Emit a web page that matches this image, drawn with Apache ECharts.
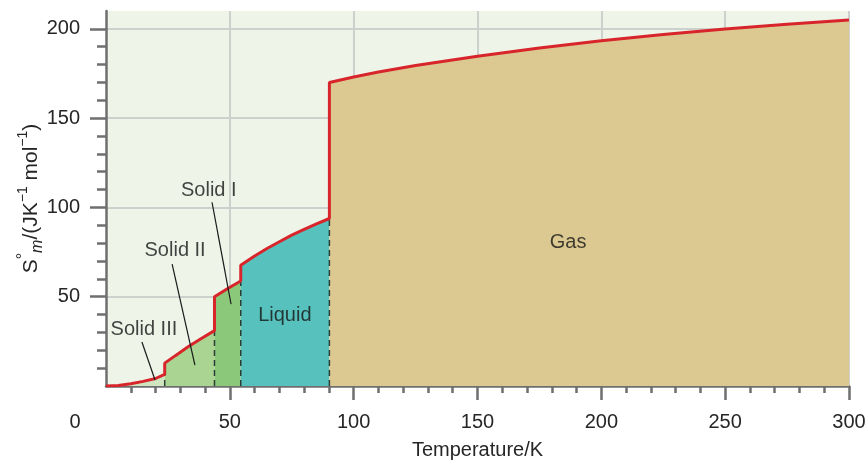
<!DOCTYPE html>
<html><head><meta charset="utf-8">
<script src="https://cdn.jsdelivr.net/npm/echarts@6/dist/echarts.min.js"></script>
<style>html,body{margin:0;padding:0;background:#fff}#c{width:866px;height:463px}</style>
</head><body><div id="c"></div>
<script>
// ---- data ----
const solidIII = [[0,0],[5,0.3],[10,1.3],[15,2.6],[20,4.2],[23.7,6.5]];
const solidII  = [[23.7,12.8],[28,17],[33,21.8],[38,26.2],[43.8,31]];
const solidI   = [[43.8,50],[49,54.5],[54.4,58.8]];
const liquid   = [[54.4,67.6],[60,72.8],[65,77],[70,80.8],[75,84.5],[80,87.7],[85,90.8],[90.2,93.8]];
const gas      = [[90.2,170],[100,173],[110,175.8],[125,179.5],[150,184.6],[175,189.3],[200,193.3],[225,196.8],[250,199.9],[275,202.6],[300,205]];
const phaseNames = ['Solid III','Solid II','Solid I','Liquid','Gas'];
const xTickLabels = [0,50,100,150,200,250,300];
const xMajorTicks = [50,100,150,200,250,300];
const yTickLabels = [50,100,150,200];
const yMinorTicks = [10,20,30,40,60,70,80,90,110,120,130,140,160,170,180,190];

// annotation anchors (data coordinates)
const labelAnchors = [[15.3,31.9],[27.9,75.8],[41.5,109.6],[72.2,39.4],[186.6,80.5]];
const leaderLines = [
  [[14.5,24.6],[19.8,3.4]],
  [[26.7,68.2],[35.9,11.7]],
  [[42.8,102.9],[50.5,45.8]]
];

const FONT = "'Liberation Sans', Arial, Helvetica, sans-serif";
const AXIS_COL = '#6f6f6f';
const TXT = '#262626';
const phases = [solidIII, solidII, solidI, liquid, gas];
const fillColors = ['#cfe5c0','#a9d492','#8cc87a','#57c2bd','#dcc991'];

const series = [];
phases.forEach((d,i)=>{
  series.push({type:'line', data:d, symbol:'none', silent:true, z:2,
    lineStyle:{width:0}, areaStyle:{color:fillColors[i], opacity:1}});
});
// dashed phase boundaries
for (let i=0;i<phases.length-1;i++){
  const last = phases[i][phases[i].length-1];
  series.push({type:'line', data:[[last[0],0],[last[0],last[1]]], symbol:'none', silent:true, z:3,
    lineStyle:{color:'#2b3b38', width:1.5, type:[6,4]}});
}
// entropy curve
series.push({type:'line', data:[].concat(...phases), symbol:'none', silent:true, z:5,
  lineStyle:{color:'#d8252b', width:3}});
// leader lines
leaderLines.forEach(l=>{
  series.push({type:'line', data:l, symbol:'none', silent:true, z:6,
    lineStyle:{color:'#1a1a1a', width:1.2}});
});
// phase labels
series.push({type:'scatter', symbolSize:0, silent:true, z:7,
  data: phaseNames.map((n,i)=>({name:n, value:labelAnchors[i]})),
  label:{show:true, position:'inside', formatter:'{b}', align:'center', verticalAlign:'middle',
    fontSize:20, fontFamily:FONT, color:'#151515'}});

const chart = echarts.init(document.getElementById('c'), null, {renderer:'canvas'});
chart.setOption({
  animation:false,
  backgroundColor:'#ffffff',
  grid:{left:106, right:17, top:11, bottom:77, show:true, backgroundColor:'#eef4e8', borderWidth:0,
    containLabel:false, outerBoundsMode:'none'},
  xAxis:{type:'value', min:0, max:300, interval:50,
    name:'Temperature/K', nameLocation:'middle', nameGap:54, nameMoveOverlap:false,
    nameTextStyle:{fontSize:20, fontFamily:FONT, color:TXT},
    axisLine:{show:true, onZero:false, lineStyle:{color:AXIS_COL, width:2.5}},
    axisTick:{show:true, customValues:xMajorTicks, length:14, lineStyle:{color:AXIS_COL, width:2.5}},
    minorTick:{show:true, splitNumber:5, length:7, lineStyle:{color:AXIS_COL, width:2.5}},
    axisLabel:{customValues:xTickLabels, margin:26, fontSize:20, fontFamily:FONT, color:TXT,
      formatter:v=> v===0 ? '{z|0}' : String(v),
      rich:{z:{fontSize:20, fontFamily:FONT, color:TXT, padding:[0,62,0,0]}}},
    splitLine:{show:true, lineStyle:{color:'#cdd1cd', width:2}}
  },
  yAxis:[{type:'value', min:0, max:210, interval:50, position:'left',
    name:'{s|S}{d|°}{m|m}{t|/(JK}{p|−1}{t| mol}{p|−1}{t|)}',
    nameLocation:'middle', nameGap:60, nameRotate:90, nameMoveOverlap:false,
    nameTextStyle:{fontSize:21, fontFamily:FONT, color:TXT,
      rich:{
        s:{fontSize:21, fontFamily:FONT, color:TXT, lineHeight:30},
        d:{fontSize:16, fontFamily:FONT, color:TXT, verticalAlign:'top', lineHeight:30},
        m:{fontSize:16, fontFamily:FONT, color:TXT, fontStyle:'italic', verticalAlign:'bottom', lineHeight:30},
        t:{fontSize:21, fontFamily:FONT, color:TXT, lineHeight:30},
        p:{fontSize:14, fontFamily:FONT, color:TXT, verticalAlign:'top', lineHeight:30}
      }},
    axisLine:{show:true, onZero:false, lineStyle:{color:AXIS_COL, width:2.5}},
    axisTick:{show:true, customValues:yTickLabels, length:16, lineStyle:{color:AXIS_COL, width:2.5}},
    axisLabel:{customValues:yTickLabels, margin:26, fontSize:20, fontFamily:FONT, color:TXT},
    splitLine:{show:true, lineStyle:{color:'#cdd1cd', width:2}}
  },{type:'value', min:0, max:210, interval:10, position:'left', offset:0,
    axisLine:{show:false},
    axisTick:{show:true, customValues:yMinorTicks, length:9, lineStyle:{color:AXIS_COL, width:2.5}},
    axisLabel:{show:false}, splitLine:{show:false}
  }],
  series: series
});
</script></body></html>
